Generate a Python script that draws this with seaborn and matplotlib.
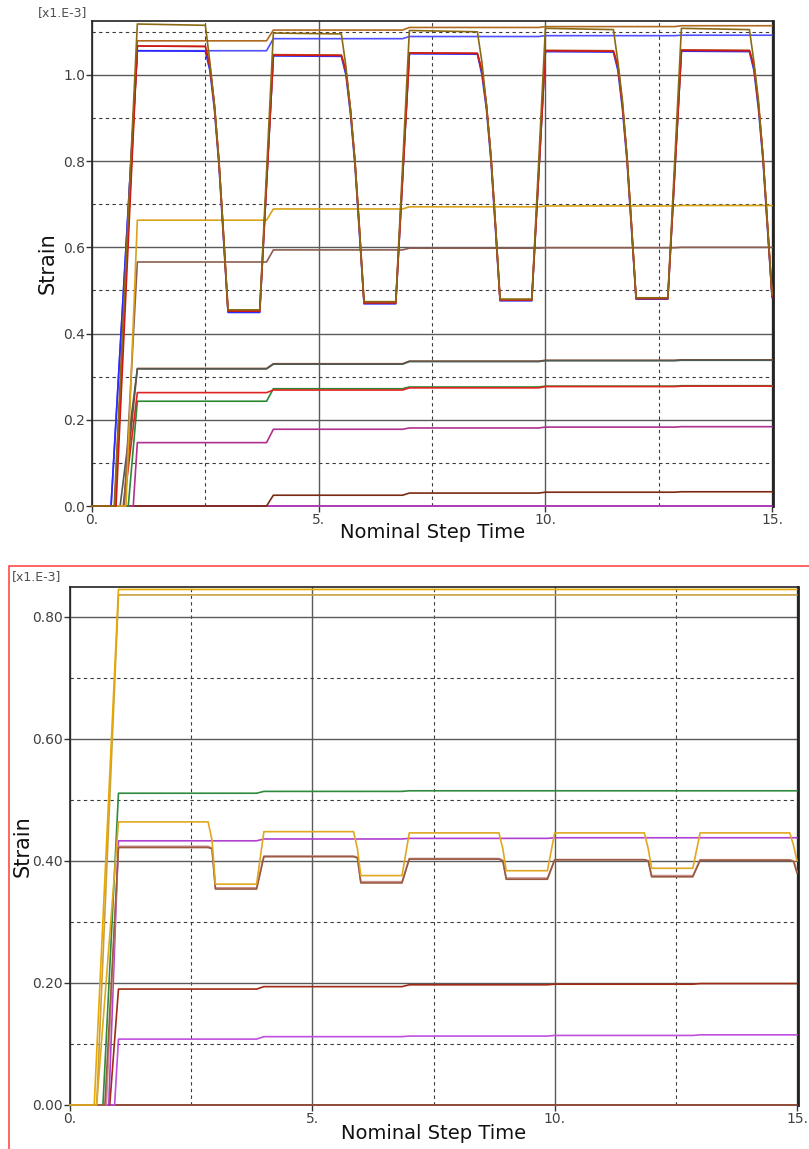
import numpy as np
import pandas as pd
import matplotlib
matplotlib.use("Agg")
import matplotlib.pyplot as plt
import seaborn as sns
from matplotlib.patches import Rectangle
from matplotlib.ticker import FixedLocator, FixedFormatter

sns.set_theme(style="white")
plt.rcParams['font.family'] = ['DejaVu Sans']

# ---------------- TOP CHART DATA ----------------
# shared time axis of the cyclic lines (from the end of the ramp on)
top_cyc_t = [1.0, 2.5, 2.6, 2.7, 2.8, 2.9, 3.0, 3.7,
             4.0, 5.5, 5.6, 5.7, 5.8, 5.9, 6.0, 6.7,
             7.0, 8.5, 8.6, 8.7, 8.8, 8.9, 9.0, 9.7,
             10.0, 11.5, 11.6, 11.7, 11.8, 11.9, 12.0, 12.7,
             13.0, 14.5, 14.6, 14.7, 14.8, 14.9, 15.0]

top_olive = [1.118, 1.115, 1.03, 0.93, 0.80, 0.63, 0.455, 0.455,
             1.097, 1.095, 1.02, 0.92, 0.80, 0.64, 0.474, 0.474,
             1.103, 1.100, 1.03, 0.93, 0.81, 0.65, 0.480, 0.480,
             1.108, 1.105, 1.03, 0.94, 0.81, 0.65, 0.483, 0.483,
             1.108, 1.105, 1.03, 0.94, 0.81, 0.65, 0.490]
top_red = [1.067, 1.066, 1.02, 0.93, 0.80, 0.63, 0.452, 0.452,
           1.046, 1.045, 1.01, 0.92, 0.80, 0.64, 0.471, 0.471,
           1.051, 1.050, 1.01, 0.93, 0.81, 0.65, 0.478, 0.478,
           1.056, 1.055, 1.02, 0.93, 0.81, 0.65, 0.481, 0.481,
           1.057, 1.056, 1.02, 0.93, 0.81, 0.65, 0.485]
top_sienna = [1.067, 1.066, 1.02, 0.93, 0.80, 0.63, 0.453, 0.453,
              1.047, 1.046, 1.01, 0.92, 0.80, 0.64, 0.472, 0.472,
              1.051, 1.050, 1.01, 0.93, 0.81, 0.65, 0.478, 0.478,
              1.057, 1.056, 1.02, 0.93, 0.81, 0.65, 0.482, 0.482,
              1.058, 1.057, 1.02, 0.93, 0.81, 0.65, 0.486]
top_blue = [1.056, 1.055, 1.01, 0.92, 0.79, 0.62, 0.449, 0.449,
            1.044, 1.043, 1.00, 0.91, 0.79, 0.63, 0.469, 0.469,
            1.049, 1.048, 1.00, 0.92, 0.80, 0.64, 0.476, 0.476,
            1.054, 1.053, 1.01, 0.92, 0.80, 0.64, 0.480, 0.480,
            1.055, 1.054, 1.01, 0.92, 0.80, 0.64, 0.483]
top_cyc_names = ["blue_c", "sienna_c", "red_c", "olive_c"]
top_cyc_vals = [top_blue, top_sienna, top_red, top_olive]
top_cyc_start = [0.42, 0.50, 0.53, 0.49]
top_cyc_colors = ["#2b2bff", "#b5651d", "#d01818", "#8a6a12"]

# step lines: plateau values over [1,4), [4,7), [7,10), [10,13), [13,15]
top_step_t = [1.0, 3.85, 4.0, 6.85, 7.0, 9.85, 10.0, 12.85, 13.0, 15.0]
top_step_names = ["brown_s", "blue_s", "gold_s", "mauve_s", "gray_s", "dbrown_s",
                  "red_s", "green_s", "magenta_s", "dred_s", "violet_s"]
top_step_vals = [
    [1.079, 1.104, 1.110, 1.112, 1.114],
    [1.056, 1.084, 1.089, 1.091, 1.092],
    [0.663, 0.689, 0.694, 0.696, 0.697],
    [0.566, 0.594, 0.598, 0.599, 0.600],
    [0.318, 0.329, 0.335, 0.337, 0.338],
    [0.319, 0.330, 0.336, 0.338, 0.339],
    [0.263, 0.269, 0.274, 0.277, 0.278],
    [0.243, 0.272, 0.276, 0.278, 0.279],
    [0.147, 0.178, 0.181, 0.183, 0.184],
    [0.000, 0.025, 0.030, 0.032, 0.033],
    [0.000, 0.000, 0.000, 0.000, 0.000],
]
top_step_start = [0.50, 0.42, 0.75, 0.71, 0.62, 0.69, 0.70, 0.80, 0.91, 1.0, 1.0]
top_step_colors = ["#b06a20", "#5050ff", "#d9a21a", "#8c5e50", "#4f5a52", "#8b4a2b",
                   "#e02424", "#2a8a30", "#b0308e", "#7a2a12", "#c040c8"]

# ---------------- BOTTOM CHART DATA ----------------
bot_cyc_t = [1.0, 2.85, 2.93, 3.0, 3.85,
             4.0, 5.85, 5.93, 6.0, 6.85,
             7.0, 8.85, 8.93, 9.0, 9.85,
             10.0, 11.85, 11.93, 12.0, 12.85,
             13.0, 14.85, 14.93, 15.0]
bot_gold = [0.464, 0.464, 0.434, 0.362, 0.362,
            0.448, 0.448, 0.420, 0.376, 0.376,
            0.446, 0.446, 0.420, 0.384, 0.384,
            0.446, 0.446, 0.420, 0.388, 0.388,
            0.446, 0.446, 0.425, 0.400]
bot_brown = [0.422, 0.422, 0.420, 0.354, 0.354,
             0.407, 0.407, 0.405, 0.364, 0.364,
             0.403, 0.403, 0.400, 0.370, 0.370,
             0.402, 0.402, 0.400, 0.374, 0.374,
             0.401, 0.401, 0.399, 0.380]
bot_pink = [0.424, 0.424, 0.421, 0.356, 0.356,
            0.408, 0.408, 0.406, 0.366, 0.366,
            0.404, 0.404, 0.401, 0.372, 0.372,
            0.402, 0.402, 0.400, 0.376, 0.376,
            0.402, 0.402, 0.400, 0.382]
bot_cyc_names = ["pink_c", "brown_c", "gold_c"]
bot_cyc_vals = [bot_pink, bot_brown, bot_gold]
bot_cyc_start = [0.75, 0.72, 0.55]
bot_cyc_colors = ["#c89090", "#9a5a40", "#e0a820"]

bot_step_t = [1.0, 3.85, 4.0, 6.85, 7.0, 9.85, 10.0, 12.85, 13.0, 15.0]
bot_step_names = ["gold_top", "gold2_top", "green_s", "purple_s", "dred_s", "violet_s", "brown0_s"]
bot_step_vals = [
    [0.845, 0.845, 0.845, 0.845, 0.845],
    [0.836, 0.836, 0.836, 0.836, 0.836],
    [0.511, 0.514, 0.515, 0.515, 0.515],
    [0.433, 0.436, 0.437, 0.438, 0.438],
    [0.190, 0.194, 0.197, 0.198, 0.199],
    [0.108, 0.112, 0.113, 0.114, 0.115],
    [0.000, 0.000, 0.000, 0.000, 0.000],
]
bot_step_start = [0.50, 0.55, 0.68, 0.80, 0.82, 0.92, 1.0]
bot_step_colors = ["#e8a800", "#c8a040", "#2e8b3e", "#b040d0", "#a02a14", "#c050e0", "#a0503a"]


def build(cyc_t, cyc_names, cyc_vals, cyc_start, step_t, step_names, step_vals, step_start):
    rows = []
    for name, vals, t0 in zip(cyc_names, cyc_vals, cyc_start):
        ts = [0.0, t0] + list(cyc_t)
        vs = [0.0, 0.0] + list(vals)
        for t, v in zip(ts, vs):
            rows.append((name, t, v))
    for name, vals, t0 in zip(step_names, step_vals, step_start):
        ys = []
        for v in vals:
            ys += [v, v]
        ts = [0.0, t0] + list(step_t)
        vs = [0.0, 0.0] + ys
        for t, v in zip(ts, vs):
            rows.append((name, t, v))
    return pd.DataFrame(rows, columns=["series", "t", "strain"])


df_top = build(top_cyc_t, top_cyc_names, top_cyc_vals, top_cyc_start,
               top_step_t, top_step_names, top_step_vals, top_step_start)
df_bot = build(bot_cyc_t, bot_cyc_names, bot_cyc_vals, bot_cyc_start,
               bot_step_t, bot_step_names, bot_step_vals, bot_step_start)

pal_top = dict(zip(top_cyc_names + top_step_names, top_cyc_colors + top_step_colors))
pal_bot = dict(zip(bot_cyc_names + bot_step_names, bot_cyc_colors + bot_step_colors))
order_top = top_step_names[::-1] + top_cyc_names
order_bot = bot_step_names[::-1] + bot_cyc_names

W, H = 809, 1149
fig = plt.figure(figsize=(W / 100, H / 100), dpi=100)
ax1 = fig.add_axes([92 / W, 1 - 506 / H, (773 - 92) / W, (506 - 21) / H])
ax2 = fig.add_axes([70 / W, 1 - 1105 / H, (798 - 70) / W, (1105 - 587) / H])


def style(ax, ymax, ymaj, ymin_ticks, yfmt, xlab_y, ylab_x):
    ax.set_xlim(0, 15.02)
    ax.set_ylim(0, ymax)
    ax.yaxis.set_major_locator(FixedLocator(ymaj))
    ax.yaxis.set_major_formatter(FixedFormatter([yfmt % v for v in ymaj]))
    ax.yaxis.set_minor_locator(FixedLocator(ymin_ticks))
    ax.xaxis.set_major_locator(FixedLocator([0, 5, 10, 15]))
    ax.xaxis.set_major_formatter(FixedFormatter(["0.", "5.", "10.", "15."]))
    ax.xaxis.set_minor_locator(FixedLocator([2.5, 7.5, 12.5]))
    ax.grid(True, which="major", color="#5a5a5a", lw=1.0, ls="-", zorder=0)
    ax.grid(True, which="minor", color="#3a3a3a", lw=0.8, ls=(0, (3, 3)), zorder=0)
    ax.set_axisbelow(True)
    for s in ax.spines.values():
        s.set_color("#222222")
        s.set_linewidth(1.2)
    ax.spines["right"].set_linewidth(2.0)
    ax.tick_params(axis="both", which="major", direction="out", length=4, width=1,
                   color="#333333", labelsize=10, labelcolor="#404040", pad=1,
                   left=True, bottom=True, right=False, top=False)
    ax.tick_params(axis="both", which="minor", length=0)
    ax.set_xlabel("Nominal Step Time", fontsize=14, color="#111111")
    ax.set_ylabel("Strain", fontsize=15, color="#111111")
    ax.xaxis.set_label_coords(0.5, xlab_y)
    ax.yaxis.set_label_coords(ylab_x, 0.5)
    for ln in ax.get_lines():
        ln.set_clip_on(False)
        ln.set_zorder(3)


sns.lineplot(data=df_top, x="t", y="strain", hue="series", hue_order=order_top,
             palette=pal_top, estimator=None, sort=False, legend=False, lw=1.2, ax=ax1)
sns.lineplot(data=df_bot, x="t", y="strain", hue="series", hue_order=order_bot,
             palette=pal_bot, estimator=None, sort=False, legend=False, lw=1.2, ax=ax2)

style(ax1, 1.125, [0.0, 0.2, 0.4, 0.6, 0.8, 1.0], [0.1, 0.3, 0.5, 0.7, 0.9, 1.1], "%.1f",
      -0.036, -0.051)
style(ax2, 0.849, [0.0, 0.2, 0.4, 0.6, 0.8], [0.1, 0.3, 0.5, 0.7], "%.2f",
      -0.036, -0.052)

fig.text(38 / W, 1 - 13 / H, "[x1.E-3]", fontsize=9, color="#505050", va="center", ha="left")
fig.text(12 / W, 1 - 577 / H, "[x1.E-3]", fontsize=9, color="#505050", va="center", ha="left")

fig.patches.append(Rectangle((9 / W, -0.01), 1.0, (H - 566) / H + 0.01,
                             transform=fig.transFigure, fill=False,
                             edgecolor="#ff4a4a", lw=1.2))

fig.savefig("out.png", dpi=100)
